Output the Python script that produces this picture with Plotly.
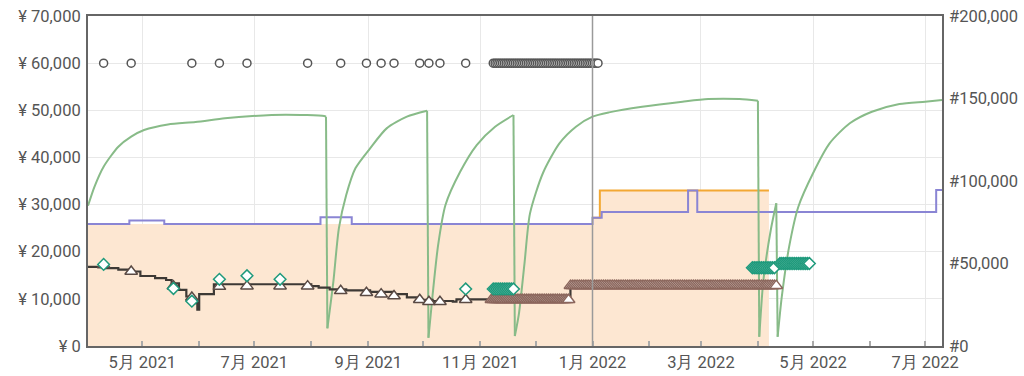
import pandas as pd
import plotly.graph_objects as go

# ---------------- data ----------------
RANK_DATES = [
    "2021-04-01 12:00", "2021-04-05", "2021-04-10", "2021-04-18", "2021-04-25", "2021-05-02",
    "2021-05-15", "2021-05-30", "2021-06-15", "2021-06-30", "2021-07-18", "2021-08-08",
    "2021-08-09 00:00", "2021-08-09 18:00", "2021-08-13", "2021-08-16", "2021-08-20", "2021-08-25",
    "2021-09-02", "2021-09-11", "2021-09-22", "2021-10-03 00:00", "2021-10-03 18:00", "2021-10-06",
    "2021-10-09", "2021-10-13", "2021-10-21", "2021-10-30", "2021-11-09", "2021-11-19 00:00",
    "2021-11-19 18:00", "2021-11-22", "2021-11-25", "2021-11-28", "2021-12-05", "2021-12-14",
    "2021-12-23", "2022-01-01", "2022-01-10", "2022-01-28", "2022-02-19", "2022-03-05",
    "2022-03-22", "2022-04-01 00:00", "2022-04-01 18:00", "2022-04-04", "2022-04-08", "2022-04-11 00:00",
    "2022-04-11 18:00", "2022-04-14", "2022-04-18", "2022-04-23", "2022-05-01", "2022-05-10",
    "2022-05-21", "2022-06-02", "2022-06-17", "2022-07-01", "2022-07-10 04:00",
]
RANK_VALUES = [
    85000, 96500, 108700, 120800, 126900, 130900,
    134300, 135800, 138000, 139400, 140200, 139400,
    139000, 10700, 39000, 71300, 91500, 107700,
    119800, 131900, 139000, 142600, 5000, 30900,
    61200, 85500, 105600, 121800, 132900, 140000,
    6000, 19800, 50100, 80400, 104700, 122800,
    132900, 139000, 141600, 145000, 148100, 149700,
    149700, 148700, 5600, 40000, 70300, 86500,
    5600, 29900, 60200, 84400, 104700, 122800,
    135000, 142000, 146700, 148100, 149100,
]

LIST_DATES = ["2021-04-01", "2021-04-24", "2021-05-13", "2021-08-06", "2021-08-23", "2022-01-01",
              "2022-01-06", "2022-02-22", "2022-02-27", "2022-07-07", "2022-07-10 04:00"]
LIST_VALUES = [25900, 26600, 25900, 27300, 25900, 27200, 28400, 33000, 28400, 33100, 33100]

AMAZON_DATES = ["2021-04-01", "2022-01-01", "2022-01-05", "2022-04-07"]
AMAZON_VALUES = [25900, 27200, 33000, 33000]

USED_DATES = ["2021-04-01", "2021-04-11", "2021-04-18", "2021-04-24", "2021-04-30", "2021-05-08",
              "2021-05-14", "2021-05-17", "2021-05-21", "2021-05-25", "2021-05-28", "2021-05-31",
              "2021-06-01", "2021-06-09", "2021-08-01", "2021-08-05", "2021-08-11", "2021-08-20",
              "2021-09-02", "2021-09-15", "2021-09-22", "2021-09-29", "2021-10-06", "2021-10-17",
              "2021-10-19", "2021-12-20", "2022-04-11"]
USED_VALUES = [16800, 16500, 16200, 15800, 14850, 14400,
               14000, 13300, 11900, 10500, 9100, 7700,
               11000, 13100, 12700, 12400, 12000, 11800,
               11500, 11000, 10300, 9800, 9550, 9400,
               9900, 12800, 12800]

TRI_DATES = ["2021-04-10", "2021-04-25", "2021-05-18", "2021-05-28", "2021-06-12", "2021-06-27",
             "2021-07-15", "2021-07-30", "2021-08-17", "2021-08-31", "2021-09-08", "2021-09-15",
             "2021-09-29", "2021-10-04", "2021-10-10", "2021-10-24"]
TRI_VALUES = [17200, 15800, 12700, 10300, 12600, 12700,
              12700, 12700, 11700, 11300, 11000, 10600,
              9800, 9400, 9400, 9800]
# frequent offers: (first day, last day, price)
TRI_RUNS = [("2021-11-07", "2021-12-19", 9800), ("2021-12-20", "2022-04-11", 12800)]

DIA_DATES = ["2021-04-10", "2021-05-18", "2021-05-28", "2021-06-12", "2021-06-27", "2021-07-15", "2021-10-24"]
DIA_VALUES = [17300, 12200, 9500, 14150, 14900, 14150, 12100]
DIA_RUNS = [("2021-11-08", "2021-11-19", 12100), ("2022-03-29", "2022-04-10", 16600),
            ("2022-04-13", "2022-04-29", 17500)]

CIRC_DATES = ["2021-04-10", "2021-04-25", "2021-05-28", "2021-06-12", "2021-06-27", "2021-07-30",
              "2021-08-17", "2021-08-31", "2021-09-08", "2021-09-15", "2021-09-29", "2021-10-04",
              "2021-10-10", "2021-10-24"]
CIRC_VALUE = 60000
CIRC_RUNS = [("2021-11-08", "2022-01-04", 60000)]

X_RANGE = ["2021-04-01 12:00", "2022-07-10 04:00"]
YEAR_MARK = "2022-01-01"


def expand(dates, values, runs):
    xs, ys = list(pd.to_datetime(dates)), list(values)
    for a, b, v in runs:
        rng = pd.date_range(a, b, freq="D")
        xs += list(rng)
        ys += [v] * len(rng)
    return xs, ys


def rank_pieces(dates, values, jump=50000):
    """Split the rank series into smooth rises and sharp drops."""
    cuts = [i for i in range(len(values) - 1) if values[i] - values[i + 1] > jump]
    rises, drops, start = [], [], 0
    for c in cuts:
        rises.append((dates[start:c + 1], values[start:c + 1]))
        drops.append((dates[c:c + 2], values[c:c + 2]))
        start = c + 1
    rises.append((dates[start:], values[start:]))
    return rises, drops


# ---------------- figure ----------------
fig = go.Figure()

GREEN = "#88bb88"

fig.add_trace(go.Scatter(x=AMAZON_DATES, y=AMAZON_VALUES, mode="lines", line_shape="hv",
                         line=dict(color="rgba(0,0,0,0)", width=0), fill="tozeroy",
                         fillcolor="#fde7d2", yaxis="y"))
fig.add_trace(go.Scatter(x=AMAZON_DATES[1:], y=AMAZON_VALUES[1:], mode="lines", line_shape="hv",
                         line=dict(color="#f3a833", width=2), yaxis="y"))
fig.add_trace(go.Scatter(x=LIST_DATES, y=LIST_VALUES, mode="lines", line_shape="hv",
                         line=dict(color="#8a85d4", width=2), yaxis="y"))

rises, drops = rank_pieces(RANK_DATES, RANK_VALUES)
for xs, ys in rises:
    fig.add_trace(go.Scatter(x=xs, y=ys, mode="lines", line_shape="spline",
                             line=dict(color=GREEN, width=2, smoothing=0.7), yaxis="y2"))
for xs, ys in drops:
    fig.add_trace(go.Scatter(x=xs, y=ys, mode="lines",
                             line=dict(color=GREEN, width=2), yaxis="y2"))

fig.add_trace(go.Scatter(x=USED_DATES, y=USED_VALUES, mode="lines", line_shape="hv",
                         line=dict(color="#3d3935", width=2.2), yaxis="y3"))

cx, cy = expand(CIRC_DATES, [CIRC_VALUE] * len(CIRC_DATES), CIRC_RUNS)
fig.add_trace(go.Scatter(x=cx, y=cy, mode="markers", yaxis="y3",
                         marker=dict(symbol="circle", size=8, color="white",
                                     line=dict(color="#555555", width=1.5))))

tx, ty = expand([], [], TRI_RUNS)
fig.add_trace(go.Scatter(x=tx, y=ty, mode="markers", yaxis="y3",
                         marker=dict(symbol="triangle-up", size=11, color="white",
                                     line=dict(color="#8b665c", width=1.5))))
fig.add_trace(go.Scatter(x=TRI_DATES, y=TRI_VALUES, mode="markers", yaxis="y3",
                         marker=dict(symbol="triangle-up", size=11, color="white",
                                     line=dict(color="#5a4a44", width=1.5))))

dx, dy = expand(DIA_DATES, DIA_VALUES, DIA_RUNS)
fig.add_trace(go.Scatter(x=dx, y=dy, mode="markers", yaxis="y3",
                         marker=dict(symbol="diamond", size=9, color="white",
                                     line=dict(color="#1f9a7c", width=1.5))))

fig.add_shape(type="line", x0=YEAR_MARK, x1=YEAR_MARK, y0=0, y1=1, xref="x", yref="paper",
              line=dict(color="#9a9a9a", width=1.5), layer="above")

font = dict(family="Roboto, Arial, sans-serif", size=16.5, color="#555555")

fig.update_layout(
    width=1024, height=376,
    margin=dict(l=88, r=82, t=16, b=30, autoexpand=False),
    paper_bgcolor="white", plot_bgcolor="white",
    showlegend=False,
    font=font,
    xaxis=dict(
        type="date", range=X_RANGE, automargin=False,
        dtick="M2", tick0="2021-05-01", tickformat="%-m月 %Y",
        ticks="inside", ticklen=5, tickcolor="#aaaaaa", tickwidth=1.5,
        minor=dict(dtick="M1", tick0="2021-05-01", ticks="inside", ticklen=5,
                   tickcolor="#aaaaaa", showgrid=False),
        showgrid=True, gridcolor="#e8e8e8", gridwidth=1,
        showline=True, linecolor="#666666", linewidth=2, mirror=True,
        tickfont=font, zeroline=False,
    ),
    yaxis=dict(
        range=[0, 70000], dtick=10000, tickprefix="¥ ", tickformat=",", automargin=False,
        showgrid=True, gridcolor="#e8e8e8", gridwidth=1, zeroline=False,
        showline=True, linecolor="#666666", linewidth=2, mirror=True,
        ticks="", tickfont=font, ticklabelstandoff=2,
    ),
    yaxis2=dict(
        range=[0, 200000], dtick=50000, tickprefix="#", tickformat=",", automargin=False,
        overlaying="y", side="right", showgrid=False, zeroline=False,
        showline=False, ticks="", tickfont=font, ticklabelstandoff=6,
    ),
    yaxis3=dict(range=[0, 70000], overlaying="y", visible=False),
)

fig.write_html("out.html")
